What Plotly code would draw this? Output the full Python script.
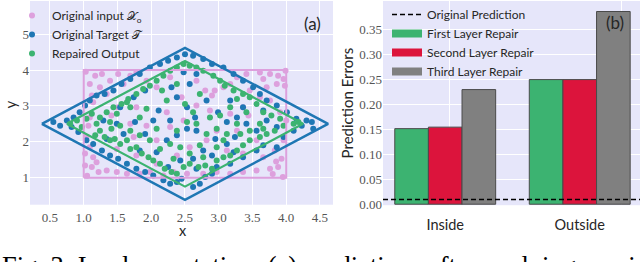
import plotly.graph_objects as go

W, H = 640, 262

# ---------------- Panel (a) data ----------------
input_points = [
    (1.09, 3.61), (1.17, 3.84), (1.27, 3.89), (1.39, 3.70), (1.51, 3.89), (1.59, 3.61), (1.69, 3.84),
    (1.78, 3.93), (1.12, 3.29), (1.24, 3.52), (1.34, 3.33), (3.61, 3.93), (3.76, 3.89), (3.88, 3.84),
    (3.96, 3.75), (3.86, 3.61), (3.71, 3.52), (3.98, 3.56), (3.66, 3.75), (3.41, 3.89), (3.27, 3.80),
    (2.94, 3.43), (2.90, 3.29), (2.80, 3.43), (3.07, 3.52), (3.17, 3.61), (3.46, 3.43), (3.36, 2.96),
    (3.44, 2.73), (3.27, 2.31), (3.76, 3.15), (3.61, 3.24), (1.04, 2.13), (1.09, 1.85), (1.02, 1.67),
    (1.14, 1.57), (1.19, 1.43), (1.09, 2.68), (1.14, 3.10), (1.07, 2.45), (1.74, 2.13), (1.69, 2.50),
    (1.51, 2.96), (1.78, 2.96), (1.34, 1.20), (1.49, 1.16), (1.64, 1.11), (1.83, 1.11), (1.98, 1.16),
    (2.18, 1.06), (2.33, 1.16), (2.53, 1.11), (2.77, 1.11), (2.97, 1.16), (3.17, 1.11), (3.36, 1.16),
    (3.56, 1.20), (3.76, 1.25), (3.88, 1.30), (3.93, 1.53), (3.83, 1.76), (3.96, 2.04), (4.00, 2.59),
    (3.91, 2.82), (1.12, 1.30), (1.22, 1.16), (1.02, 1.34), (1.41, 2.73), (1.93, 2.45), (2.23, 2.82),
    (2.48, 2.59), (2.67, 3.01), (2.87, 2.87), (2.97, 2.31), (2.82, 2.04), (2.57, 1.85), (2.38, 1.62),
    (2.08, 1.39), (1.78, 1.62), (1.49, 1.80), (3.12, 1.76), (3.36, 1.67), (3.56, 2.04), (3.66, 1.57),
    (2.28, 2.41), (2.08, 2.04), (3.17, 2.78), (2.45, 3.24), (2.08, 3.52), (2.28, 3.80), (2.67, 3.70),
    (1.93, 3.70), (3.85, 1.45), (3.80, 1.10), (1.05, 1.05), (3.95, 1.02), (1.03, 3.95), (3.99, 3.98),
]
input_x = [p[0] for p in input_points]
input_y = [p[1] for p in input_points]

target_points = [
    (0.55, 2.55), (0.65, 2.45), (0.75, 2.59), (0.85, 2.68), (0.82, 2.41), (0.94, 2.82), (0.92, 2.27),
    (1.02, 3.01), (1.09, 3.15), (1.19, 3.29), (1.04, 2.04), (1.14, 1.94), (1.27, 1.76), (1.39, 1.62),
    (1.51, 1.53), (1.64, 1.39), (1.78, 1.25), (1.91, 1.16), (2.03, 1.06), (2.18, 0.93), (2.28, 0.83),
    (2.38, 0.88), (2.45, 0.97), (2.62, 0.74), (2.72, 0.83), (2.80, 1.02), (2.90, 1.11), (2.97, 1.30),
    (3.17, 1.39), (3.36, 1.57), (3.56, 1.76), (3.66, 1.90), (3.86, 1.85), (3.96, 2.13), (4.11, 2.31),
    (4.23, 2.45), (4.30, 2.59), (4.38, 2.55), (4.40, 2.36), (4.15, 2.64), (4.01, 2.82), (3.86, 3.01),
    (3.71, 3.15), (3.61, 3.33), (3.51, 3.52), (3.36, 3.70), (3.22, 3.89), (3.07, 4.07), (2.90, 4.17),
    (2.77, 4.31), (2.62, 4.40), (2.50, 4.44), (2.38, 4.35), (2.25, 4.26), (2.13, 4.17), (1.98, 4.07),
    (1.83, 3.89), (1.69, 3.75), (1.56, 3.61), (1.44, 3.43), (1.31, 3.33), (1.54, 2.96), (1.74, 3.24),
    (1.91, 3.43), (2.11, 2.87), (2.03, 2.59), (1.76, 2.55), (1.59, 2.22), (1.34, 2.08), (1.83, 1.76),
    (2.08, 1.71), (2.23, 2.04), (2.38, 2.18), (2.53, 2.36), (2.65, 2.68), (2.53, 2.96), (2.38, 3.24),
    (2.30, 3.52), (2.57, 3.61), (2.67, 3.89), (2.48, 3.94), (2.82, 3.15), (2.99, 2.82), (3.17, 3.15),
    (3.36, 2.96), (3.41, 2.50), (3.24, 2.13), (3.12, 1.94), (2.95, 2.08), (2.77, 1.76), (2.62, 1.53),
    (2.43, 1.48), (2.25, 1.30), (2.67, 1.25), (2.90, 1.62), (3.22, 1.71), (3.56, 2.31), (3.71, 2.59),
    (3.86, 2.41), (3.66, 2.87), (1.91, 2.22), (1.49, 2.50), (1.29, 2.59), (2.67, 2.31), (3.12, 2.55),
    (3.27, 2.68), (2.28, 2.59),
]
target_x = [p[0] for p in target_points]
target_y = [p[1] for p in target_points]

repaired_points = [
    (0.80, 2.50), (0.90, 2.59), (0.97, 2.41), (1.04, 2.64), (1.12, 2.78), (1.19, 2.50), (1.24, 2.31),
    (1.17, 2.18), (1.31, 2.13), (1.39, 2.04), (1.46, 2.08), (1.54, 1.94), (1.64, 2.04), (1.69, 1.80),
    (1.78, 1.85), (1.86, 1.67), (1.96, 1.57), (2.03, 1.48), (2.13, 1.39), (2.20, 1.25), (2.30, 1.16),
    (2.38, 1.11), (2.48, 1.30), (2.57, 1.39), (2.70, 1.30), (2.80, 1.34), (2.90, 1.25), (2.97, 1.48),
    (3.07, 1.57), (3.17, 1.62), (3.27, 1.76), (3.36, 1.90), (3.46, 2.04), (3.61, 2.13), (3.71, 2.22),
    (3.83, 2.31), (3.96, 2.45), (4.11, 2.50), (4.18, 2.55), (3.91, 2.64), (3.78, 2.73), (3.66, 2.82),
    (3.56, 3.05), (3.46, 3.24), (3.36, 3.33), (3.22, 3.43), (3.09, 3.56), (3.02, 3.70), (2.92, 3.84),
    (2.77, 3.98), (2.67, 4.07), (2.57, 4.12), (2.48, 4.17), (2.38, 4.07), (2.28, 3.98), (2.18, 3.84),
    (2.08, 3.70), (1.98, 3.56), (1.88, 3.47), (1.78, 3.33), (1.66, 3.19), (1.56, 3.05), (1.44, 2.96),
    (1.34, 2.82), (1.24, 2.68), (1.64, 3.10), (1.69, 2.96), (1.83, 2.68), (1.93, 2.92), (2.16, 3.43),
    (2.23, 3.15), (2.38, 3.61), (2.50, 3.05), (2.62, 2.82), (2.72, 3.33), (2.87, 2.68), (3.02, 2.73),
    (3.17, 2.96), (3.27, 3.19), (3.41, 2.82), (3.61, 2.50), (3.46, 2.31), (3.32, 2.22), (3.07, 2.04),
    (2.97, 1.85), (2.82, 2.22), (2.67, 2.50), (2.53, 2.55), (2.38, 2.31), (2.28, 1.94), (2.13, 1.80),
    (1.98, 2.04), (1.83, 2.18), (1.69, 2.31), (1.54, 2.45), (1.41, 2.36), (2.08, 2.36), (2.43, 1.85),
    (2.57, 1.67), (2.72, 1.90), (2.97, 2.36), (3.27, 2.50), (3.12, 2.22), (3.66, 2.36), (1.49, 2.78),
    (1.39, 2.55), (2.33, 1.53), (2.77, 1.57),
]
repaired_x = [p[0] for p in repaired_points]
repaired_y = [p[1] for p in repaired_points]

# region outlines (corner values)
input_region_x = [1.0, 4.0, 4.0, 1.0, 1.0]
input_region_y = [1.0, 1.0, 4.0, 4.0, 1.0]
target_region_x = [0.38, 2.5, 4.62, 2.5, 0.38]
target_region_y = [2.5, 4.62, 2.5, 0.38, 2.5]
repaired_region_x = [0.75, 2.5, 4.25, 2.5, 0.75]
repaired_region_y = [2.5, 4.25, 2.5, 0.75, 2.5]

x_ticks_a = [0.5, 1.0, 1.5, 2.0, 2.5, 3.0, 3.5, 4.0, 4.5]
y_ticks_a = [1, 2, 3, 4, 5]

# ---------------- Panel (b) data ----------------
categories = ["Inside", "Outside"]
first_layer = [0.151, 0.249]
second_layer = [0.154, 0.249]
third_layer = [0.229, 0.385]
original_prediction = 0.0095
y_ticks_b = [0.00, 0.05, 0.10, 0.15, 0.20, 0.25, 0.30, 0.35]

PINK = "#DDA0DD"
BLUE = "#1F77B4"
GREEN = "#3CB371"
RED = "#DC143C"
GREY = "#808080"
BG = "#E6E6FA"
SANS = "Lato"
SERIF = "Liberation Serif"
TXT = "#262626"
TICK = "#555555"

def px(x):
    return x / W

def py(y):
    return 1 - y / H

fig = go.Figure()

fig.add_trace(go.Scatter(x=input_x, y=input_y, mode="markers", name="Original input 𝒳<sub>o</sub>",
                         marker=dict(color=PINK, size=6), legend="legend"))
fig.add_trace(go.Scatter(x=target_x, y=target_y, mode="markers", name="Original Target 𝒯",
                         marker=dict(color=BLUE, size=6), legend="legend"))
fig.add_trace(go.Scatter(x=repaired_x, y=repaired_y, mode="markers", name="Repaired Output",
                         marker=dict(color=GREEN, size=6), legend="legend"))
fig.add_trace(go.Scatter(x=input_region_x, y=input_region_y, mode="lines",
                         line=dict(color=PINK, width=2), showlegend=False))
fig.add_trace(go.Scatter(x=target_region_x, y=target_region_y, mode="lines",
                         line=dict(color=BLUE, width=2.5), showlegend=False))
fig.add_trace(go.Scatter(x=repaired_region_x, y=repaired_region_y, mode="lines",
                         line=dict(color=GREEN, width=2.2), showlegend=False))

for vals, color in [(first_layer, GREEN), (second_layer, RED), (third_layer, GREY)]:
    fig.add_trace(go.Bar(x=categories, y=vals, xaxis="x2", yaxis="y2", showlegend=False,
                         marker=dict(color=color, line=dict(color="#4A4A4A", width=1))))

# grid-only overlay axis
fig.add_trace(go.Scatter(x=[None], y=[None], xaxis="x3", yaxis="y2", showlegend=False))

# legend entries for panel (b)
DASH = "5px,3px"
fig.add_trace(go.Scatter(x=[None], y=[None], xaxis="x2", yaxis="y2", mode="lines", name="Original Prediction",
                         line=dict(color="black", width=1.5, dash=DASH), legend="legend2"))
for nm, color in [("First Layer Repair", GREEN), ("Second Layer Repair", RED), ("Third Layer Repair", GREY)]:
    fig.add_trace(go.Scatter(x=[None], y=[None], xaxis="x2", yaxis="y2", mode="lines", name=nm,
                             line=dict(color=color, width=8), legend="legend2"))

fig.add_shape(type="line", xref="x2 domain", x0=0, x1=1, yref="y2", y0=original_prediction, y1=original_prediction,
              line=dict(color="black", width=1.5, dash=DASH), layer="above")

axis_common = dict(showgrid=True, gridcolor="white", gridwidth=1, zeroline=False, showline=False, ticks="",
                   automargin=False)

def label(text, x, y, size, angle=0, family=SANS):
    return dict(text=text, x=px(x), y=py(y), xref="paper", yref="paper", xanchor="center", yanchor="middle",
                showarrow=False, textangle=angle, font=dict(family=family, size=size, color=TXT))

fig.update_layout(
    template="none",
    width=W, height=H, margin=dict(l=0, r=0, t=0, b=0),
    paper_bgcolor="white", plot_bgcolor=BG,
    barmode="group", bargap=0.25, bargroupgap=0,
    xaxis=dict(domain=[px(30), px(333)], range=[0.204, 4.693], anchor="y",
               tickvals=x_ticks_a, ticktext=[f"{v:.1f}" for v in x_ticks_a],
               tickfont=dict(family=SERIF, size=13, color=TICK), ticklabelstandoff=3,
               **axis_common),
    yaxis=dict(domain=[py(204.5), 1], range=[0.245, 5.925], anchor="x",
               tickvals=y_ticks_a, ticktext=[str(v) for v in y_ticks_a],
               tickfont=dict(family=SERIF, size=13, color=TICK),
               **axis_common),
    xaxis2=dict(domain=[px(383), 1], range=[-0.4625, 1.448], anchor="y2", type="category",
                tickfont=dict(family=SANS, size=14.5, color=TXT), ticklabelstandoff=9,
                showgrid=False, zeroline=False, showline=False, ticks="", automargin=False),
    xaxis3=dict(overlaying="x2", anchor="y2", range=[-0.4625, 1.448], tickvals=[0.03, 1.31],
                showticklabels=False, showgrid=True, gridcolor="white", gridwidth=1,
                zeroline=False, showline=False, ticks="", automargin=False),
    yaxis2=dict(domain=[py(205), 1], range=[-0.002, 0.406], anchor="x2",
                tickvals=y_ticks_b, ticktext=[f"{v:.2f}" for v in y_ticks_b],
                tickfont=dict(family=SERIF, size=13, color=TICK),
                title=dict(text="Prediction Errors", font=dict(family=SANS, size=15, color=TXT), standoff=1),
                **axis_common),
    legend=dict(x=px(12), y=py(1), xanchor="left", yanchor="top", bgcolor="rgba(0,0,0,0)",
                font=dict(family=SANS, size=12, color=TXT), itemwidth=30, tracegroupgap=0),
    legend2=dict(x=px(387), y=py(-1), xanchor="left", yanchor="top", bgcolor="rgba(0,0,0,0)",
                 font=dict(family=SANS, size=12, color=TXT), itemwidth=30, tracegroupgap=0),
    annotations=[
        label("x", 183, 230, 14.5),
        label("y", 10, 104, 15, angle=-90),
        label("(a)", 312, 23, 17),
        label("(b)", 615, 22, 17),
        dict(text="Fig. 3: In-place rotation: (a) predictions after applying repair to the network",
             x=0, y=py(248.5), xref="paper", yref="paper", xanchor="left", yanchor="top",
             showarrow=False, font=dict(family=SERIF, size=26.5, color="black")),
    ],
)

fig.write_html("out.html", config={"displayModeBar": False},
               post_script="document.body.style.margin='0';document.body.style.overflow='hidden';")
